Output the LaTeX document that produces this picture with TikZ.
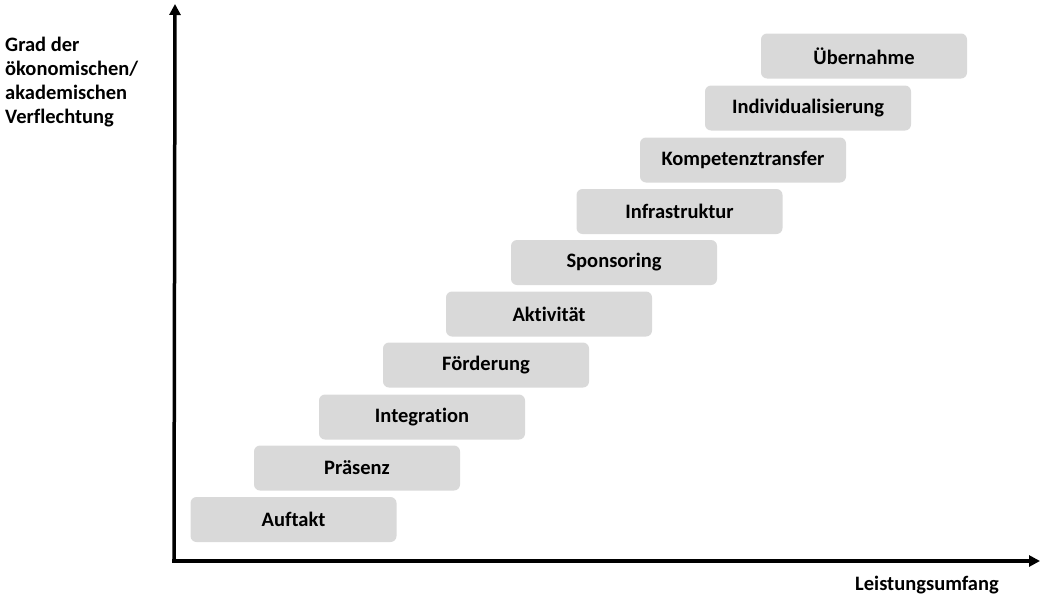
\documentclass[tikz,border=0pt]{standalone}
\usepackage{fontspec}
\setmainfont[Ligatures=NoCommon]{Carlito}
\usetikzlibrary{arrows.meta}
\definecolor{boxgray}{HTML}{D9D9D9}
\begin{document}
\begin{tikzpicture}[x=1pt,y=-1pt,
  stepbox/.style={fill=boxgray, rounded corners=6pt, minimum width=206pt, minimum height=45pt, inner sep=0pt, font=\fontsize{20.5}{24}\selectfont\bfseries},
  axis/.style={line width=3.5pt, -{Triangle[length=11pt,width=11pt]}},
  lbl/.style={font=\fontsize{20.5}{24}\selectfont\bfseries, inner sep=0pt, align=left}]
\useasboundingbox (0,0) rectangle (1040,597);
\node[stepbox] (auftakt) at (293.5,519.5) {Auftakt};
\node[stepbox] (praesenz) at (357,468) {Präsenz};
\node[stepbox] (integration) at (422,417) {Integration};
\node[stepbox] (foerderung) at (486,365) {Förderung};
\node[stepbox] (aktivitaet) at (549,314) {Aktivität};
\node[stepbox] (sponsoring) at (614,262.5) {Sponsoring};
\node[stepbox] (infrastruktur) at (679.5,211.5) {Infrastruktur};
\node[stepbox] (kompetenz) at (743,160) {Kompetenztransfer};
\node[stepbox] (individual) at (808,108) {Individualisierung};
\node[stepbox] (uebernahme) at (864,56) {Übernahme};
\coordinate (origin) at (174,561);
\coordinate (ytop) at (175,4);
\coordinate (xend) at (1040,561);
\draw[axis] ([xshift=-1.75pt]origin) -- (xend);
\draw[axis] ([yshift=1.75pt]origin) -- (ytop);
\node[lbl, anchor=north west] (ylabel) at (5,37) {Grad der\\ökonomischen/\\akademischen\\Verflechtung};
\node[lbl] (xlabel) at (927,585) {Leistungsumfang};
\end{tikzpicture}
\end{document}
